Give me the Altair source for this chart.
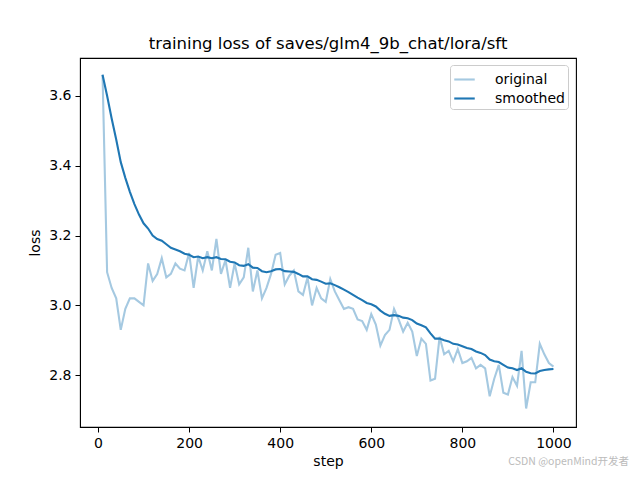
import altair as alt
import pandas as pd

steps = list(range(10, 1001, 10))

original = [
    3.66, 3.095, 3.05, 3.02, 2.93, 2.99, 3.02, 3.02, 3.01, 3.00,
    3.12, 3.07, 3.09, 3.135, 3.08, 3.09, 3.12, 3.105, 3.10, 3.15,
    3.05, 3.14, 3.10, 3.155, 3.10, 3.19, 3.09, 3.13, 3.05, 3.12,
    3.06, 3.08, 3.165, 3.04, 3.10, 3.02, 3.05, 3.09, 3.145, 3.15,
    3.06, 3.085, 3.10, 3.04, 3.03, 3.08, 3.00, 3.05, 3.02, 3.01,
    3.075, 3.04, 3.015, 2.99, 2.995, 2.99, 2.96, 2.955, 2.93, 2.975,
    2.945, 2.885, 2.915, 2.93, 2.99, 2.96, 2.925, 2.95, 2.925, 2.855,
    2.905, 2.89, 2.785, 2.79, 2.91, 2.86, 2.87, 2.84, 2.875, 2.835,
    2.84, 2.85, 2.82, 2.83, 2.82, 2.74, 2.79, 2.83, 2.75, 2.745,
    2.795, 2.77, 2.87, 2.705, 2.78, 2.78, 2.89, 2.86, 2.835, 2.825,
]

smoothed = [
    3.66, 3.60, 3.535, 3.475, 3.41, 3.365, 3.325, 3.29, 3.26, 3.235,
    3.22, 3.20, 3.19, 3.185, 3.175, 3.165, 3.16, 3.155, 3.148, 3.145,
    3.138, 3.14, 3.135, 3.138, 3.135, 3.138, 3.133, 3.132, 3.125, 3.123,
    3.115, 3.113, 3.118, 3.108, 3.107, 3.098, 3.095, 3.098, 3.103, 3.104,
    3.098, 3.097, 3.096, 3.09, 3.083, 3.083, 3.075, 3.073, 3.068, 3.062,
    3.063, 3.058, 3.052, 3.045, 3.038, 3.03, 3.022, 3.015, 3.007, 3.003,
    2.997, 2.985, 2.976, 2.97, 2.972, 2.97, 2.965, 2.963, 2.958, 2.948,
    2.943, 2.937, 2.92, 2.905, 2.905, 2.90, 2.897, 2.89, 2.888, 2.883,
    2.878, 2.875, 2.868, 2.864, 2.858, 2.845, 2.84, 2.838, 2.83, 2.822,
    2.82, 2.815, 2.82, 2.81, 2.806, 2.805, 2.812, 2.815, 2.817, 2.818,
]

series_names = ["original", "smoothed"]
series_colors = ["#a5c9e1", "#1f77b4"]
x_ticks = [0, 200, 400, 600, 800, 1000]
y_ticks = [2.8, 3.0, 3.2, 3.4, 3.6]

rows = []
for name, vals in zip(series_names, [original, smoothed]):
    for s, v in zip(steps, vals):
        rows.append({"step": s, "loss": v, "series": name})
df = pd.DataFrame(rows)

FONT = "DejaVu Sans"

lines = alt.Chart(df).mark_line(strokeWidth=2.1).encode(
    x=alt.X("step:Q", scale=alt.Scale(domain=[-39.5, 1049.5], nice=False, zero=False),
            axis=alt.Axis(values=x_ticks, title="step", format="d")),
    y=alt.Y("loss:Q", scale=alt.Scale(domain=[2.652, 3.708], nice=False, zero=False),
            axis=alt.Axis(values=y_ticks, title="loss", format=".1f")),
    color=alt.Color("series:N",
                    scale=alt.Scale(domain=series_names, range=series_colors),
                    legend=alt.Legend(title=None, orient="none", legendX=370, legendY=7,
                                      symbolType="stroke", symbolSize=420,
                                      symbolStrokeWidth=2.1, labelFontSize=14,
                                      labelFont=FONT, strokeColor="#cccccc",
                                      fillColor="white", cornerRadius=3,
                                      padding=3, rowPadding=0, labelOffset=19)),
    order=alt.Order("step:Q"),
)

wm_df = pd.DataFrame({"t": ["CSDN @openMind开发者"]})
watermark = alt.Chart(wm_df).mark_text(
    align="right", baseline="middle", fontSize=10.5, color="#bbbbbb",
    font="Noto Sans CJK SC"
).encode(x=alt.value(549), y=alt.value(404), text="t:N")

chart = alt.layer(lines, watermark).properties(
    width=496, height=369,
    autosize=alt.AutoSizeParams(type="none"),
    padding={"left": 72, "top": 50, "right": 56, "bottom": 45},
    title=alt.Title("training loss of saves/glm4_9b_chat/lora/sft",
                    fontSize=16.5, font=FONT, fontWeight="normal",
                    anchor="middle", offset=6, color="black"),
).configure_view(
    stroke="black", strokeWidth=1.1
).configure_axis(
    grid=False, domainColor="black", tickColor="black", tickSize=5,
    labelFont=FONT, labelFontSize=14, labelColor="black",
    titleFont=FONT, titleFontSize=14, titleFontWeight="normal", titleColor="black",
    labelPadding=4,
).configure_axisX(
    titlePadding=4
).configure_axisY(
    titlePadding=6
)

chart.save("out.html", embed_options={"renderer": "svg", "actions": False})
